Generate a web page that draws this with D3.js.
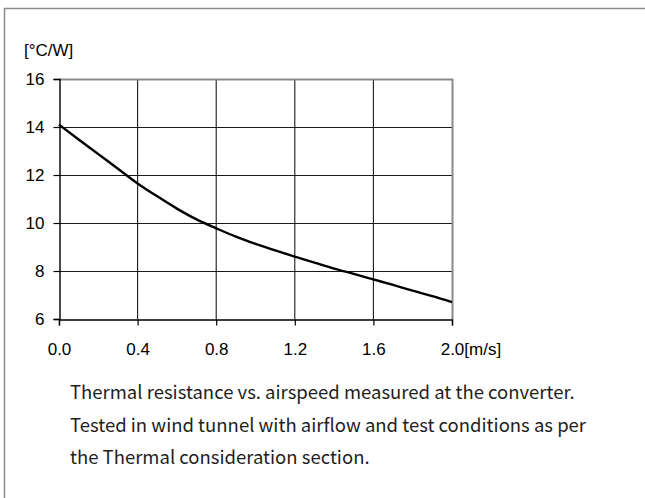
<!DOCTYPE html>
<html>
<head>
<meta charset="utf-8">
<script src="https://cdn.jsdelivr.net/npm/d3@7"></script>
<style>
  body { margin: 0; background: #fff; }
  svg { display: block; }
</style>
</head>
<body>
<svg id="chart"></svg>
<script>
// airspeed [m/s] and thermal resistance [°C/W]
const airspeed = [0.0, 0.1, 0.2, 0.3, 0.4, 0.5, 0.6, 0.7, 0.8, 0.9, 1.0,
                  1.1, 1.2, 1.3, 1.4, 1.5, 1.6, 1.7, 1.8, 1.9, 2.0];
const resistance = [14.1, 13.48, 12.87, 12.26, 11.65, 11.11, 10.6, 10.15, 9.78, 9.43, 9.13,
                    8.86, 8.6, 8.35, 8.1, 7.88, 7.65, 7.42, 7.18, 6.95, 6.7];
const xTicks = [0.0, 0.4, 0.8, 1.2, 1.6, 2.0];
const yTicks = [6, 8, 10, 12, 14, 16];
const caption = [
    'Thermal resistance vs. airspeed measured at the converter.',
    'Tested in wind tunnel with airflow and test conditions as per',
    'the Thermal consideration section.'
];

const width = 645, height = 498;
const margin = {top: 79, right: 193, bottom: 179, left: 59};

const svg = d3.select('#chart')
    .attr('width', width)
    .attr('height', height);

// outer frame (top and left edges only)
svg.append('path')
    .attr('d', `M4.5,${height} V8.5 H${width}`)
    .attr('fill', 'none')
    .attr('stroke', '#8a8a8a')
    .attr('stroke-width', 1.5);

const xScale = d3.scaleLinear()
    .domain([0, 2])
    .range([margin.left, width - margin.right]);

const yScale = d3.scaleLinear()
    .domain([6, 16])
    .range([height - margin.bottom, margin.top]);

const font = '"Liberation Sans", Arial, sans-serif';

// grid
svg.append('g')
    .selectAll('line')
    .data(yTicks.slice(1, -1))
    .join('line')
    .attr('x1', xScale(0)).attr('x2', xScale(2))
    .attr('y1', d => yScale(d) + 0.5).attr('y2', d => yScale(d) + 0.5)
    .attr('stroke', '#1a1a1a').attr('stroke-width', 1);

svg.append('g')
    .selectAll('line')
    .data(xTicks.slice(1, -1))
    .join('line')
    .attr('x1', d => xScale(d)).attr('x2', d => xScale(d))
    .attr('y1', yScale(16)).attr('y2', yScale(6))
    .attr('stroke', '#1a1a1a').attr('stroke-width', 1.1);

// top and right border of plot, grey
svg.append('path')
    .attr('d', `M${xScale(0)},${yScale(16) + 0.5} H${xScale(2) + 0.5} V${yScale(6)}`)
    .attr('fill', 'none')
    .attr('stroke', '#8a8a8a')
    .attr('stroke-width', 2);

// axes
const yAxis = svg.append('g')
    .attr('transform', `translate(${xScale(0) + 0.5},0)`)
    .call(d3.axisLeft(yScale).tickValues(yTicks).tickSize(6).tickPadding(9).tickFormat(d3.format('d')));

const xAxis = svg.append('g')
    .attr('transform', `translate(0,${yScale(6) + 0.5})`)
    .call(d3.axisBottom(xScale).tickValues(xTicks).tickSize(6).tickPadding(17).tickFormat(d3.format('.1f')));

for (const ax of [xAxis, yAxis]) {
    ax.select('.domain').attr('stroke', '#000').attr('stroke-width', 1.4);
    ax.selectAll('.tick line').attr('stroke', '#000').attr('stroke-width', 1.2);
    ax.selectAll('.tick text')
        .attr('fill', '#000')
        .style('font-family', font)
        .style('font-size', '17px');
}

// unit appended to the last x tick
xAxis.selectAll('.tick text')
    .filter(d => d === 2)
    .attr('text-anchor', 'start')
    .attr('dx', '-0.695em')
    .text('2.0[m/s]');

svg.append('text')
    .attr('x', 24)
    .attr('y', 56)
    .style('font-family', font)
    .style('font-size', '17px')
    .attr('fill', '#000')
    .text('[°C/W]');

// curve
const line = d3.line()
    .x((d, i) => xScale(airspeed[i]))
    .y(d => yScale(d))
    .curve(d3.curveMonotoneX);

svg.append('path')
    .datum(resistance)
    .attr('d', line)
    .attr('fill', 'none')
    .attr('stroke', '#000')
    .attr('stroke-width', 2.4);

// caption
svg.append('g')
    .selectAll('text')
    .data(caption)
    .join('text')
    .attr('x', 70)
    .attr('y', (d, i) => 399 + i * 32.5)
    .style('font-family', '"Noto Sans CJK KR", "Noto Sans", sans-serif')
    .style('font-size', '18.5px')
    .attr('fill', '#1e1e1e')
    .text(d => d);
</script>
</body>
</html>
